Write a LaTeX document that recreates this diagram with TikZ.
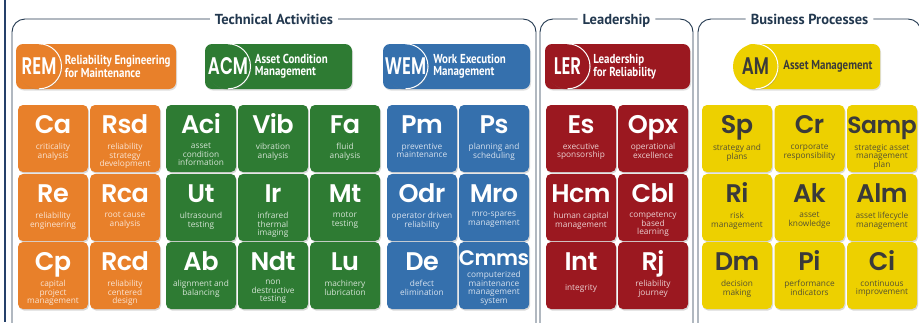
\documentclass[tikz,border=0pt]{standalone}
\usepackage{fontspec}
\usepackage{tikz}
\usetikzlibrary{positioning, shadows}
\setmainfont{Open Sans}
\newfontfamily\symfont{Poppins SemiBold}[LetterSpace=-2]
\newfontfamily\badgefont{Poppins SemiBold}[FakeStretch=0.7]
\newfontfamily\descfont{Open Sans}
\newfontfamily\headfont{PT Sans}[FakeStretch=0.84]
\newfontfamily\titlefont{PT Sans}
\definecolor{remorange}{HTML}{E8802A}
\definecolor{acmgreen}{HTML}{2E7B33}
\definecolor{wemblue}{HTML}{3570AD}
\definecolor{lerred}{HTML}{9B1820}
\definecolor{amyellow}{HTML}{EDD000}
\definecolor{amtext}{HTML}{3A3A3A}
\definecolor{framenavy}{HTML}{22384F}
\definecolor{edgenavy}{HTML}{25406A}

\begin{document}
\begin{tikzpicture}[x=1pt, y=-1pt,
    tile/.style={rectangle, rounded corners=5pt, fill=#1, minimum width=70pt, minimum height=67pt, inner sep=0pt, text height=28pt, text depth=39pt, font=\symfont\fontsize{25.5}{25.5}\selectfont, text=white, drop shadow={shadow xshift=1pt, shadow yshift=-1.5pt, opacity=0.3}},
    ytile/.style={tile=amyellow, text=amtext},
    desc/.style={font=\descfont\fontsize{8.3}{8.7}\selectfont, align=center, inner sep=0pt, text=white!80!#1},
    ydesc/.style={desc=amyellow, text=amtext!85!amyellow},
    pill/.style={rectangle, rounded corners=7pt, fill=#1, minimum height=45pt, inner sep=0pt, drop shadow={shadow xshift=1pt, shadow yshift=-1.5pt, opacity=0.25}},
    badge/.style={circle, fill=#1, minimum size=45pt, inner sep=0pt, font=\badgefont\fontsize{24}{24}\selectfont, text=white, drop shadow={shadow xshift=1pt, shadow yshift=-1pt, opacity=0.25}},
    headtext/.style={font=\headfont\bfseries\fontsize{13}{11.8}\selectfont, text=white, align=left, inner sep=0pt},
    frametitle/.style={font=\titlefont\bfseries\fontsize{14.5}{16}\selectfont, text=framenavy, text height=10pt, text depth=0pt, inner sep=5pt},
    frameline/.style={draw=framenavy, line width=0.9pt, rounded corners=13pt},
    rim/.style={draw=white, line width=1pt}
]
\useasboundingbox (0,0) rectangle (919,322);
\clip (0,0) rectangle (919,322);
\fill[white] (0,0) rectangle (919,322);

% Page edge
\draw[edgenavy, line width=2pt] (4.5,0) -- (4.5,322);

% Group frames
\node[frametitle] (ta) at (274,19) {Technical Activities};
\node[frametitle] (ld) at (616.5,19) {Leadership};
\node[frametitle] (bp) at (809.5,19) {Business Processes};
\draw[frameline] (ta.west) -- (12,19) -- (12,345) -- (536,345) -- (536,19) -- (ta.east);
\draw[frameline] (ld.west) -- (540,19) -- (540,345) -- (693,345) -- (693,19) -- (ld.east);
\draw[frameline] (bp.west) -- (698,19) -- (698,345) -- (921,345) -- (921,19) -- (bp.east);

% Group headers
\node[pill=remorange, minimum width=160pt] (rem-p) at (96,66.5) {};
\node[badge=remorange] (rem-c) at (39,66.5) {REM};
\draw[rim] (rem-c.north) arc[start angle=90, end angle=-90, radius=22.5pt];
\node[headtext, right=3pt of rem-c.east] (rem-t) {Reliability Engineering\\for Maintenance};

\node[pill=acmgreen, minimum width=147pt] (acm-p) at (278.5,66.5) {};
\node[badge=acmgreen] (acm-c) at (228,66.5) {ACM};
\draw[rim] (acm-c.north) arc[start angle=90, end angle=-90, radius=22.5pt];
\node[headtext, right=4pt of acm-c.east] (acm-t) {Asset Condition\\Management};

\node[pill=wemblue, minimum width=147pt] (wem-p) at (456.5,66.5) {};
\node[badge=wemblue] (wem-c) at (405.5,66.5) {WEM};
\draw[rim] (wem-c.north) arc[start angle=90, end angle=-90, radius=22.5pt];
\node[headtext, right=5pt of wem-c.east] (wem-t) {Work Execution\\Management};

\node[pill=lerred, minimum width=145pt] (ler-p) at (617.5,66.5) {};
\node[badge=lerred] (ler-c) at (567.5,66.5) {LER};
\draw[rim] (ler-c.north) arc[start angle=90, end angle=-90, radius=22.5pt];
\node[headtext, right=3pt of ler-c.east] (ler-t) {Leadership\\for Reliability};

\node[pill=amyellow, minimum width=135pt] (am-p) at (812.5,66.5) {};
\node[badge=amyellow, text=amtext] (am-c) at (755.5,66.5) {AM};
\draw[rim] (am-c.north) arc[start angle=90, end angle=-90, radius=22.5pt];
\node[headtext, text=amtext, right=5pt of am-c.east] (am-t) {Asset Management};

% Reliability engineering tiles
\node[tile=remorange] (ca) at (53,138.5) {Ca};
\node[desc=remorange, below=38pt of ca.north] (ca-d) {criticality\\analysis};
\node[tile=remorange] (rsd) at (125,138.5) {Rsd};
\node[desc=remorange, below=38pt of rsd.north] (rsd-d) {reliability\\strategy\\development};
\node[tile=remorange] (re) at (53,207.5) {Re};
\node[desc=remorange, below=38pt of re.north] (re-d) {reliability\\engineering};
\node[tile=remorange] (rca) at (125,207.5) {Rca};
\node[desc=remorange, below=38pt of rca.north] (rca-d) {root cause\\analysis};
\node[tile=remorange] (cp) at (53,275.5) {Cp};
\node[desc=remorange, below=38pt of cp.north] (cp-d) {capital\\project\\management};
\node[tile=remorange] (rcd) at (125,275.5) {Rcd};
\node[desc=remorange, below=38pt of rcd.north] (rcd-d) {reliability\\centered\\design};

% Asset condition tiles
\node[tile=acmgreen] (aci) at (201,138.5) {Aci};
\node[desc=acmgreen, below=38pt of aci.north] (aci-d) {asset\\condition\\information};
\node[tile=acmgreen] (vib) at (273,138.5) {Vib};
\node[desc=acmgreen, below=38pt of vib.north] (vib-d) {vibration\\analysis};
\node[tile=acmgreen] (fa) at (345,138.5) {Fa};
\node[desc=acmgreen, below=38pt of fa.north] (fa-d) {fluid\\analysis};
\node[tile=acmgreen] (ut) at (201,207.5) {Ut};
\node[desc=acmgreen, below=38pt of ut.north] (ut-d) {ultrasound\\testing};
\node[tile=acmgreen] (ir) at (273,207.5) {Ir};
\node[desc=acmgreen, below=38pt of ir.north] (ir-d) {infrared\\thermal\\imaging};
\node[tile=acmgreen] (mt) at (345,207.5) {Mt};
\node[desc=acmgreen, below=38pt of mt.north] (mt-d) {motor\\testing};
\node[tile=acmgreen] (ab) at (201,275.5) {Ab};
\node[desc=acmgreen, below=38pt of ab.north] (ab-d) {alignment and\\balancing};
\node[tile=acmgreen] (ndt) at (273,275.5) {Ndt};
\node[desc=acmgreen, below=38pt of ndt.north] (ndt-d) {non\\destructive\\testing};
\node[tile=acmgreen] (lu) at (345,275.5) {Lu};
\node[desc=acmgreen, below=38pt of lu.north] (lu-d) {machinery\\lubrication};

% Work execution tiles
\node[tile=wemblue] (pm) at (422,138.5) {Pm};
\node[desc=wemblue, below=38pt of pm.north] (pm-d) {preventive\\maintenance};
\node[tile=wemblue] (ps) at (494,138.5) {Ps};
\node[desc=wemblue, below=38pt of ps.north] (ps-d) {planning and\\scheduling};
\node[tile=wemblue] (odr) at (422,207.5) {Odr};
\node[desc=wemblue, below=38pt of odr.north] (odr-d) {operator driven\\reliability};
\node[tile=wemblue] (mro) at (494,207.5) {Mro};
\node[desc=wemblue, below=38pt of mro.north] (mro-d) {mro-spares\\management};
\node[tile=wemblue] (de) at (422,275.5) {De};
\node[desc=wemblue, below=38pt of de.north] (de-d) {defect\\elimination};
\node[tile=wemblue, text height=23pt, text depth=44pt] (cmms) at (494,275.5) {\fontsize{21}{21}\selectfont Cmms};
\node[desc=wemblue, below=29pt of cmms.north] (cmms-d) {computerized\\maintenance\\management\\system};

% Leadership tiles
\node[tile=lerred] (es) at (581,138.5) {Es};
\node[desc=lerred, below=38pt of es.north] (es-d) {executive\\sponsorship};
\node[tile=lerred] (opx) at (653,138.5) {Opx};
\node[desc=lerred, below=38pt of opx.north] (opx-d) {operational\\excellence};
\node[tile=lerred] (hcm) at (581,207.5) {Hcm};
\node[desc=lerred, below=38pt of hcm.north] (hcm-d) {human capital\\management};
\node[tile=lerred] (cbl) at (653,207.5) {Cbl};
\node[desc=lerred, below=38pt of cbl.north] (cbl-d) {competency\\based\\learning};
\node[tile=lerred] (int) at (581,275.5) {Int};
\node[desc=lerred, below=42pt of int.north] (int-d) {integrity};
\node[tile=lerred] (rj) at (653,275.5) {Rj};
\node[desc=lerred, below=38pt of rj.north] (rj-d) {reliability\\journey};

% Business process tiles
\node[ytile] (sp) at (737,138.5) {Sp};
\node[ydesc, below=39pt of sp.north] (sp-d) {strategy and\\plans};
\node[ytile] (cr) at (809.5,138.5) {Cr};
\node[ydesc, below=39pt of cr.north] (cr-d) {corporate\\responsibility};
\node[ytile] (samp) at (882,138.5) {\fontsize{23.5}{23.5}\selectfont Samp};
\node[ydesc, below=39pt of samp.north] (samp-d) {strategic asset\\management\\plan};
\node[ytile] (ri) at (737,207.5) {Ri};
\node[ydesc, below=38pt of ri.north] (ri-d) {risk\\management};
\node[ytile] (ak) at (809.5,207.5) {Ak};
\node[ydesc, below=38pt of ak.north] (ak-d) {asset\\knowledge};
\node[ytile] (alm) at (882,207.5) {Alm};
\node[ydesc, below=38pt of alm.north] (alm-d) {asset lifecycle\\management};
\node[ytile] (dm) at (737,275.5) {Dm};
\node[ydesc, below=38pt of dm.north] (dm-d) {decision\\making};
\node[ytile] (pi) at (809.5,275.5) {Pi};
\node[ydesc, below=38pt of pi.north] (pi-d) {performance\\indicators};
\node[ytile] (ci) at (882,275.5) {Ci};
\node[ydesc, below=38pt of ci.north] (ci-d) {continuous\\improvement};

\end{tikzpicture}
\end{document}
